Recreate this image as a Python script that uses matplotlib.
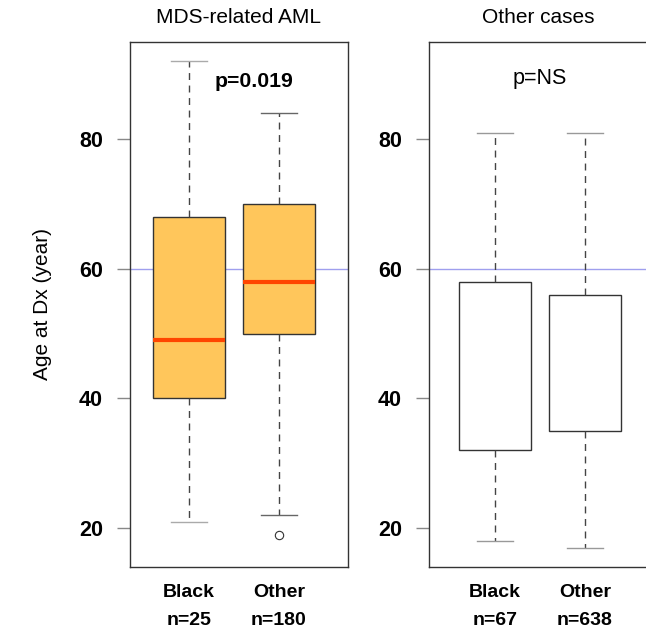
import numpy as np
import matplotlib.pyplot as plt

plt.rcParams['font.family'] = ['Liberation Sans', 'DejaVu Sans']

# values (age at diagnosis, years)
groups = ["Black", "Other"]
panel_titles = ["MDS-related AML", "Other cases"]
n_labels = [["n=25", "n=180"], ["n=67", "n=638"]]
p_labels = ["p=0.019", "p=NS"]

mds_low = [21, 22]
mds_q1 = [40, 50]
mds_med = [49, 58]
mds_q3 = [68, 70]
mds_high = [92, 84]
mds_fliers = [[], [19]]

oth_low = [18, 17]
oth_q1 = [32, 35]
oth_med = [45, 45]
oth_q3 = [58, 56]
oth_high = [81, 81]
oth_fliers = [[], []]

yticks = [20, 40, 60, 80]
ref_line = 60


def make_stats(low, q1, med, q3, high, fliers):
    out = []
    for i in range(len(low)):
        out.append(dict(whislo=low[i], q1=q1[i], med=med[i], q3=q3[i],
                        whishi=high[i], fliers=fliers[i], label=groups[i]))
    return out


W, H = 646, 633
fig = plt.figure(figsize=(W / 100, H / 100), dpi=100)
ax1 = fig.add_axes([130 / W, (H - 567) / H, 218 / W, 525 / H])
ax2 = fig.add_axes([429 / W, (H - 567) / H, 219 / W, 525 / H])

stats1 = make_stats(mds_low, mds_q1, mds_med, mds_q3, mds_high, mds_fliers)
stats2 = make_stats(oth_low, oth_q1, oth_med, oth_q3, oth_high, oth_fliers)

ax1.bxp(stats1, positions=[1, 2], widths=0.8, patch_artist=True,
        boxprops=dict(facecolor='#FFC65B', edgecolor='#333333', lw=1),
        medianprops=dict(color='#FF4500', lw=3, solid_capstyle='butt'),
        whiskerprops=dict(color='#444444', lw=1, linestyle=(0, (5, 4))),
        capprops=dict(color='#666666', lw=1), capwidths=0.4,
        flierprops=dict(marker='o', markersize=6, markerfacecolor='none',
                        markeredgecolor='#333333', markeredgewidth=0.8))
for wl in ax1.lines[2:4]:
    wl.set_color('#aaaaaa')

ax2.bxp(stats2, positions=[1, 2], widths=0.8, patch_artist=True,
        boxprops=dict(facecolor='white', edgecolor='#333333', lw=1),
        medianprops=dict(color='white', lw=0),
        whiskerprops=dict(color='#444444', lw=1, linestyle=(0, (5, 4))),
        capprops=dict(color='#999999', lw=1), capwidths=0.4,
        showfliers=False)

for k, ax in enumerate([ax1, ax2]):
    ax.set_ylim(14, 95)
    ax.axhline(ref_line, color='#9f9fee', lw=1, zorder=0.5)
    ax.set_yticks(yticks)
    ax.set_yticklabels([str(v) for v in yticks], fontsize=15.5, fontweight='bold')
    ax.tick_params(axis='y', length=9.4, pad=10, color='#888888', width=1)
    ax.set_xticks([])
    for s in ax.spines.values():
        s.set_color('#333333')
        s.set_linewidth(1)
    ax.set_title(panel_titles[k], fontsize=15, pad=14)
    for i, g in enumerate(groups):
        ax.text(i + 1, -0.048, g, transform=ax.get_xaxis_transform(),
                ha='center', va='center', fontsize=14, fontweight='bold')
        ax.text(i + 1, -0.101, n_labels[k][i], transform=ax.get_xaxis_transform(),
                ha='center', va='center', fontsize=14, fontweight='bold')

ax1.set_xlim(1 - 59 / 90, 1 - 59 / 90 + 218 / 90)
ax2.set_xlim(1 - 66 / 90, 1 - 66 / 90 + 219 / 90)

ax1.text(1.72, 88.9, p_labels[0], ha='center', va='center', fontsize=15.3, fontweight='bold')
ax2.text(1.5, 89.3, p_labels[1], ha='center', va='center', fontsize=15.5)

ax1.set_ylabel("Age at Dx (year)", fontsize=15)
ax1.yaxis.set_label_coords(-78 / 218, 0.5)

fig.savefig("out.png", dpi=100)
